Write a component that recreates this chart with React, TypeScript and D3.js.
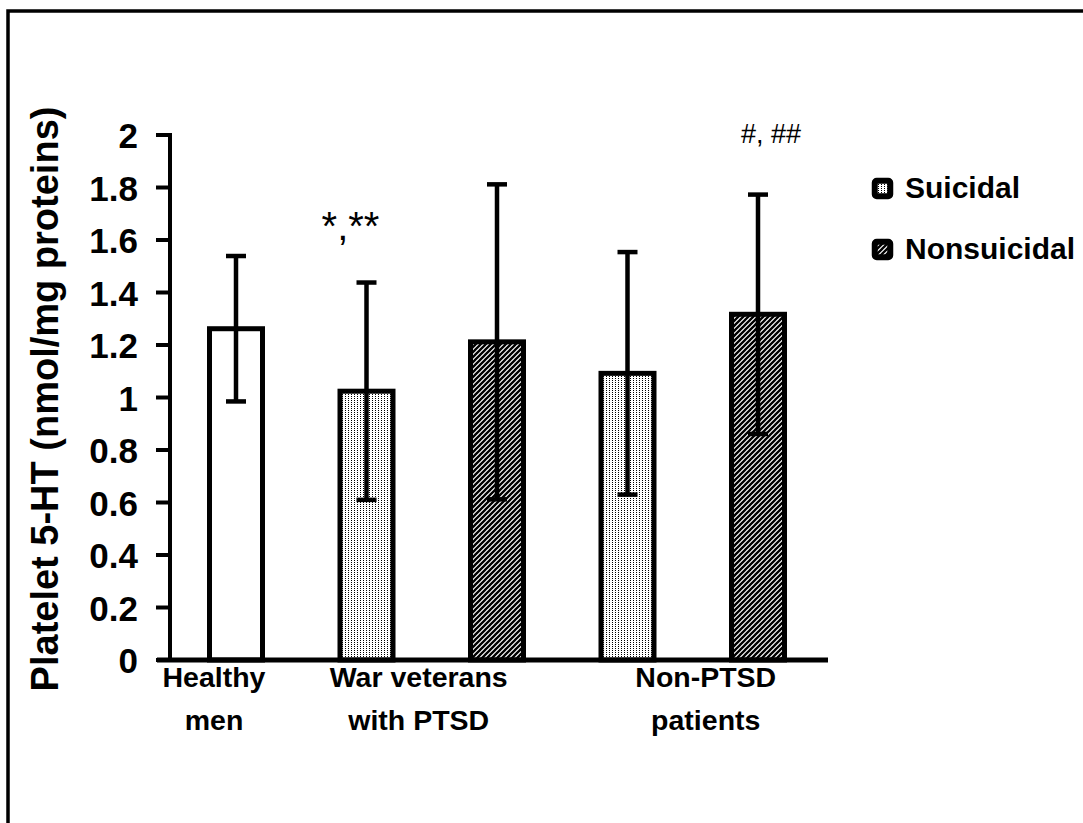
import React from "react";
import * as d3 from "d3";

// ---- data ----
const barIds = ["healthy", "war-s", "war-n", "non-s", "non-n"];
const barGroup = ["Healthy", "War", "War", "NonPTSD", "NonPTSD"];
const barKind = ["healthy", "suicidal", "nonsuicidal", "suicidal", "nonsuicidal"];
const barMeans = [1.262, 1.024, 1.212, 1.092, 1.317];
const barSDs = [0.277, 0.414, 0.6, 0.462, 0.456];

const categoryIds = ["Healthy", "War", "NonPTSD"];
const categoryLines = [["Healthy", "men"], ["War veterans", "with PTSD"], ["Non-PTSD", "patients"]];

const yTicks = [0, 0.2, 0.4, 0.6, 0.8, 1, 1.2, 1.4, 1.6, 1.8, 2];
const yTitle = "Platelet 5-HT (nmol/mg proteins)";

const annotationBars = [1, 4];
const annotationTexts = ["*,**", "#, ##"];
const annotationValues = [1.6, 1.97];

const legendKinds = ["suicidal", "nonsuicidal"];
const legendLabels = ["Suicidal", "Nonsuicidal"];

// ---- layout ----
const W = 1083;
const H = 823;
const axisX = 170;
const y0px = 660;
const y2px = 135;
const firstBarX = 236;
const lastBarX = 758;
const barW = 53;
const labelOffsets = [-22, -13, 13];
const annotationOffsets = [-16, 13];

export default function App() {
  const y = d3.scaleLinear().domain([0, 2]).range([y0px, y2px]);
  const x = d3.scalePoint<string>().domain(barIds).range([firstBarX, lastBarX]);
  const fillFor = (k: string) =>
    k === "healthy" ? "#fff" : k === "suicidal" ? "url(#stipple)" : "url(#hatch)";
  const font = "'Liberation Sans', Arial, sans-serif";

  const groupCenter = (g: string) => {
    const xs = barIds.filter((_, i) => barGroup[i] === g).map((id) => x(id) as number);
    return d3.mean(xs) as number;
  };

  return (
    <svg
      width={W}
      height={H}
      style={{ position: "absolute", left: 0, top: 0, background: "#fff" }}
      fontFamily={font}
    >
      <defs>
        <pattern id="stipple" patternUnits="userSpaceOnUse" width={3} height={2}>
          <rect width={3} height={2} fill="#fff" />
          <rect x={0} y={0} width={1} height={1} fill="#000" />
        </pattern>
        <pattern id="hatch" patternUnits="userSpaceOnUse" width={5} height={5}>
          <rect width={5} height={5} fill="#fff" />
          <path d="M-1,6 L6,-1 M-1,1 L1,-1 M4,6 L6,4" stroke="#000" strokeWidth={2.3} />
        </pattern>
      </defs>

      {/* frame */}
      <path d={`M8,${H} L8,11 L${W},11`} fill="none" stroke="#000" strokeWidth={3.5} />

      {/* y axis title */}
      <text
        transform={`translate(58,399) rotate(-90)`}
        textAnchor="middle"
        fontSize={38}
        fontWeight="bold"
      >
        {yTitle}
      </text>

      {/* y ticks */}
      {yTicks.map((t) => (
        <g key={t}>
          <line x1={156} x2={axisX} y1={y(t)} y2={y(t)} stroke="#000" strokeWidth={4} />
          <text x={138} y={y(t) + 13} textAnchor="end" fontSize={35} fontWeight="bold">
            {d3.format("")(t)}
          </text>
        </g>
      ))}

      {/* bars */}
      {barIds.map((id, i) => {
        const cx = x(id) as number;
        const top = y(barMeans[i]);
        return (
          <rect
            key={id}
            x={cx - barW / 2}
            y={top}
            width={barW}
            height={y(0) - top}
            fill={fillFor(barKind[i])}
            stroke="#000"
            strokeWidth={5}
          />
        );
      })}

      {/* error bars */}
      {barIds.map((id, i) => {
        const cx = x(id) as number;
        const hi = y(barMeans[i] + barSDs[i]);
        const lo = y(barMeans[i] - barSDs[i]);
        return (
          <g key={id} stroke="#000" strokeWidth={4.5}>
            <line x1={cx} x2={cx} y1={hi} y2={lo} />
            <line x1={cx - 10} x2={cx + 10} y1={hi} y2={hi} />
            <line x1={cx - 10} x2={cx + 10} y1={lo} y2={lo} />
          </g>
        );
      })}

      {/* axes */}
      <line x1={axisX} x2={axisX} y1={y(2) - 2} y2={y(0) + 2} stroke="#000" strokeWidth={4} />
      <line x1={157} x2={828} y1={y(0)} y2={y(0)} stroke="#000" strokeWidth={5} />

      {/* category labels */}
      {categoryIds.map((g, i) => {
        const cx = groupCenter(g) + labelOffsets[i];
        return (
          <text key={g} textAnchor="middle" fontSize={28.5} fontWeight="bold">
            <tspan x={cx} y={687}>{categoryLines[i][0]}</tspan>
            <tspan x={cx} y={730}>{categoryLines[i][1]}</tspan>
          </text>
        );
      })}

      {/* annotations */}
      {annotationBars.map((b, i) => (
        <text
          key={i}
          x={(x(barIds[b]) as number) + annotationOffsets[i]}
          y={y(annotationValues[i])}
          textAnchor="middle"
          fontSize={i === 0 ? 40 : 27}
        >
          {annotationTexts[i]}
        </text>
      ))}

      {/* legend */}
      {legendKinds.map((k, i) => (
        <g key={k} transform={`translate(872,${178 + i * 61})`}>
          <rect x={2.75} y={2.75} width={15.5} height={15.5} rx={2} fill={fillFor(k)} stroke="#000" strokeWidth={6} />
          <text x={33} y={20} fontSize={30} fontWeight="bold">
            {legendLabels[i]}
          </text>
        </g>
      ))}
    </svg>
  );
}
